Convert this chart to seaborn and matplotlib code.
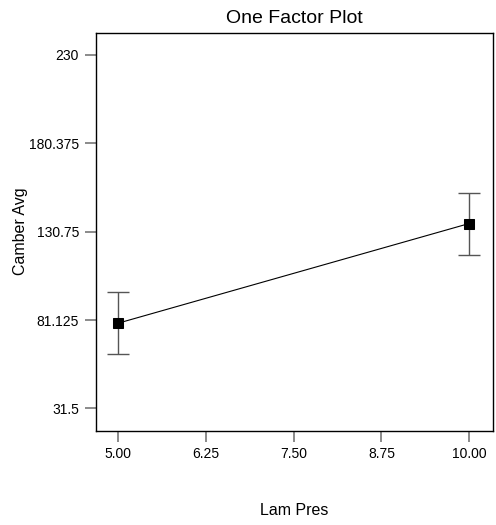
import numpy as np
import pandas as pd
import matplotlib
matplotlib.use('Agg')
import matplotlib.pyplot as plt
import seaborn as sns

# data
lam_pres = [5.0, 10.0]
camber_avg = [79.4, 135.3]
camber_err = [17.6, 17.4]

x_ticks = [5.00, 6.25, 7.50, 8.75, 10.00]
y_ticks = [31.5, 81.125, 130.75, 180.375, 230]
y_tick_labels = ['31.5', '81.125', '130.75', '180.375', '230']

sns.set_style('white')
plt.rcParams['font.family'] = ['Liberation Sans', 'DejaVu Sans']
plt.rcParams['text.color'] = 'black'
plt.rcParams['axes.labelcolor'] = 'black'
plt.rcParams['xtick.labelcolor'] = 'black'
plt.rcParams['ytick.labelcolor'] = 'black'

df = pd.DataFrame({'Lam Pres': lam_pres, 'Camber Avg': camber_avg})

fig = plt.figure(figsize=(4.96, 5.25), dpi=100)
ax = fig.add_axes([0.193, 0.180, 0.801, 0.758])

# error bars first so the markers sit on top
ax.errorbar(lam_pres, camber_avg, yerr=camber_err, fmt='none',
            ecolor='#555555', elinewidth=1.0, capsize=8, capthick=1.0, zorder=2)
sns.lineplot(data=df, x='Lam Pres', y='Camber Avg', ax=ax, color='black',
             linewidth=0.8, marker='s', markersize=7, markeredgecolor='black',
             markerfacecolor='black', zorder=3)

ax.set_xlim(4.678, 10.34)
ax.set_ylim(19.15, 242.46)
ax.set_xticks(x_ticks)
ax.set_xticklabels([f'{v:.2f}' for v in x_ticks])
ax.set_yticks(y_ticks)
ax.set_yticklabels(y_tick_labels)

ax.tick_params(axis='both', direction='out', length=8, width=1.2,
               color='#777777', labelsize=10, labelcolor='black', pad=4,
               left=True, bottom=True)

for sp in ax.spines.values():
    sp.set_visible(True)
    sp.set_color('black')
    sp.set_linewidth(1.0)

ax.set_title('One Factor Plot', fontsize=14, pad=7, color='black')
ax.set_xlabel('Lam Pres', fontsize=11.5, labelpad=30, color='black')
ax.set_ylabel('Camber Avg', fontsize=11.5, labelpad=1, color='black')

fig.savefig('out.png', dpi=100)
